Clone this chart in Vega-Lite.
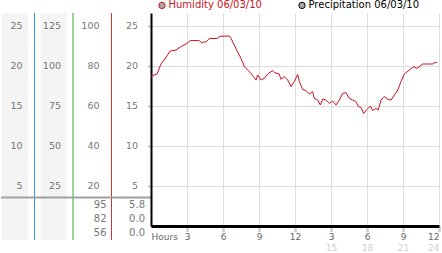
{
  "$schema": "https://vega.github.io/schema/vega-lite/v6.json",
  "padding": 0,
  "autosize": {"type": "pad"},
  "background": "white",
  "config": {"view": {"stroke": null}, "font": "DejaVu Sans"},
  "datasets": {
    "cols": [{"col": "A"}, {"col": "B"}, {"col": "C"}, {"col": "D"}],
    "labels": [
      {"col": "A", "level": 25, "label": "25"}, {"col": "A", "level": 20, "label": "20"}, {"col": "A", "level": 15, "label": "15"}, {"col": "A", "level": 10, "label": "10"}, {"col": "A", "level": 5, "label": "5"},
      {"col": "B", "level": 25, "label": "125"}, {"col": "B", "level": 20, "label": "100"}, {"col": "B", "level": 15, "label": "75"}, {"col": "B", "level": 10, "label": "50"}, {"col": "B", "level": 5, "label": "25"},
      {"col": "C", "level": 25, "label": "100"}, {"col": "C", "level": 20, "label": "80"}, {"col": "C", "level": 15, "label": "60"}, {"col": "C", "level": 10, "label": "40"}, {"col": "C", "level": 5, "label": "20"},
      {"col": "D", "level": 25, "label": "25"}, {"col": "D", "level": 20, "label": "20"}, {"col": "D", "level": 15, "label": "15"}, {"col": "D", "level": 10, "label": "10"}, {"col": "D", "level": 5, "label": "5"}
    ],
    "table": [
      {"stat": "max", "row": 1, "col": "C", "text": "95"}, {"stat": "max", "row": 1, "col": "D", "text": "5.8"},
      {"stat": "avg", "row": 2, "col": "C", "text": "82"}, {"stat": "avg", "row": 2, "col": "D", "text": "0.0"},
      {"stat": "min", "row": 3, "col": "C", "text": "56"}, {"stat": "min", "row": 3, "col": "D", "text": "0.0"}
    ],
    "humidity": [
      {"hour": 0.0, "humidity": 75}, {"hour": 0.5, "humidity": 76}, {"hour": 0.83, "humidity": 81}, {"hour": 1.1, "humidity": 83},
      {"hour": 1.6, "humidity": 87.5}, {"hour": 2.08, "humidity": 88}, {"hour": 2.5, "humidity": 89.7}, {"hour": 2.92, "humidity": 91},
      {"hour": 3.28, "humidity": 92.7}, {"hour": 4.03, "humidity": 92.7}, {"hour": 4.17, "humidity": 91.8}, {"hour": 4.58, "humidity": 92},
      {"hour": 4.86, "humidity": 93.7}, {"hour": 5.56, "humidity": 93.8}, {"hour": 5.69, "humidity": 94.8}, {"hour": 6.53, "humidity": 95},
      {"hour": 6.67, "humidity": 93.8}, {"hour": 6.94, "humidity": 90.5}, {"hour": 7.22, "humidity": 87}, {"hour": 7.5, "humidity": 83.8},
      {"hour": 7.78, "humidity": 79.7}, {"hour": 8.06, "humidity": 78}, {"hour": 8.33, "humidity": 76.3}, {"hour": 8.75, "humidity": 73},
      {"hour": 8.89, "humidity": 75.5}, {"hour": 9.17, "humidity": 73}, {"hour": 9.44, "humidity": 73.8}, {"hour": 9.72, "humidity": 76},
      {"hour": 10.14, "humidity": 77.7}, {"hour": 10.28, "humidity": 76.7}, {"hour": 10.69, "humidity": 76}, {"hour": 10.83, "humidity": 73.3},
      {"hour": 11.11, "humidity": 74.7}, {"hour": 11.39, "humidity": 73}, {"hour": 11.67, "humidity": 69.7}, {"hour": 11.94, "humidity": 72.2},
      {"hour": 12.22, "humidity": 75.8}, {"hour": 12.36, "humidity": 72.2}, {"hour": 12.64, "humidity": 68.3}, {"hour": 12.92, "humidity": 67.7},
      {"hour": 13.19, "humidity": 66}, {"hour": 13.47, "humidity": 67.2}, {"hour": 13.61, "humidity": 63.8}, {"hour": 13.89, "humidity": 63},
      {"hour": 14.11, "humidity": 60.5}, {"hour": 14.31, "humidity": 63.5}, {"hour": 14.58, "humidity": 63}, {"hour": 14.86, "humidity": 61.3},
      {"hour": 15.14, "humidity": 62.5}, {"hour": 15.42, "humidity": 60.5}, {"hour": 15.69, "humidity": 63}, {"hour": 15.97, "humidity": 66.3},
      {"hour": 16.25, "humidity": 66.7}, {"hour": 16.53, "humidity": 63.8}, {"hour": 16.81, "humidity": 63}, {"hour": 17.08, "humidity": 62.2},
      {"hour": 17.28, "humidity": 59.7}, {"hour": 17.5, "humidity": 59.3}, {"hour": 17.72, "humidity": 56.3}, {"hour": 18.0, "humidity": 58.3},
      {"hour": 18.28, "humidity": 60}, {"hour": 18.47, "humidity": 57.7}, {"hour": 18.75, "humidity": 58.8}, {"hour": 18.94, "humidity": 58},
      {"hour": 19.17, "humidity": 63}, {"hour": 19.44, "humidity": 64.7}, {"hour": 19.72, "humidity": 63.3}, {"hour": 20.0, "humidity": 63},
      {"hour": 20.28, "humidity": 65.5}, {"hour": 20.56, "humidity": 68}, {"hour": 20.83, "humidity": 72.2}, {"hour": 21.11, "humidity": 76},
      {"hour": 21.53, "humidity": 78}, {"hour": 21.89, "humidity": 79.7}, {"hour": 22.17, "humidity": 78.8}, {"hour": 22.64, "humidity": 81},
      {"hour": 23.47, "humidity": 81}, {"hour": 23.67, "humidity": 81.8}, {"hour": 23.83, "humidity": 81.7}
    ]
  },
  "bounds": "flush",
  "spacing": 0,
  "resolve": {"scale": {"x": "independent", "y": "independent", "color": "independent"}, "legend": {"color": "independent"}},
  "hconcat": [
    {
      "width": 150,
      "height": 227,
      "resolve": {"scale": {"y": "independent"}},
      "layer": [
        {
          "data": {"name": "cols"},
          "transform": [{"filter": "datum.col == 'A' || datum.col == 'B'"}],
          "mark": {"type": "bar", "color": "#f4f4f4", "width": {"band": 0.68}},
          "encoding": {
            "x": {"field": "col", "type": "nominal", "scale": {"type": "band", "domain": ["A", "B", "C", "D"], "range": [-5, 149], "paddingInner": 0, "paddingOuter": 0}, "axis": null}
          }
        },
        {
          "data": {"name": "cols"},
          "transform": [{"filter": "datum.col != 'D'"}],
          "mark": {"type": "rule", "strokeWidth": 1},
          "encoding": {
            "x": {"field": "col", "type": "nominal", "bandPosition": 1, "axis": null},
            "color": {"field": "col", "type": "nominal", "scale": {"domain": ["A", "B", "C"], "range": ["#2a9fd6", "#3aa63a", "#c8373c"]}, "legend": null}
          }
        },
        {
          "data": {"name": "labels"},
          "mark": {"type": "text", "fontSize": 9.5, "color": "#777777", "align": "right", "baseline": "middle", "dx": -12},
          "encoding": {
            "x": {"field": "col", "type": "nominal", "bandPosition": 1, "axis": null},
            "y": {"field": "level", "type": "quantitative", "scale": {"domain": [-1.75, 26.625], "nice": false, "zero": false}, "axis": null},
            "text": {"field": "label"}
          }
        },
        {
          "data": {"name": "table"},
          "layer": [
            {
              "transform": [{"filter": "datum.stat == 'max' && datum.col == 'C'"}],
              "mark": {"type": "rule", "color": "#a0a0a0", "strokeWidth": 2, "yOffset": -7},
              "encoding": {
                "y": {"field": "row", "type": "quantitative", "axis": null}
              }
            },
            {
              "mark": {"type": "text", "fontSize": 10, "color": "#777777", "align": "right", "baseline": "middle", "dx": -5},
              "encoding": {
                "x": {"field": "col", "type": "nominal", "bandPosition": 1, "axis": null},
                "y": {"field": "row", "type": "quantitative", "scale": {"domain": [-12.68, 3.535], "reverse": true, "nice": false, "zero": false}, "axis": null},
                "text": {"field": "text"}
              }
            }
          ]
        }
      ]
    },
    {
      "width": 288,
      "height": 213,
      "resolve": {"axis": {"x": "independent"}},
      "layer": [
        {
          "data": {"name": "humidity"},
          "mark": {"type": "line", "strokeWidth": 1, "interpolate": "linear"},
          "encoding": {
            "x": {
              "field": "hour", "type": "quantitative",
              "scale": {"domain": [0, 24], "nice": false, "zero": false},
              "axis": {
                "orient": "bottom",
                "values": [0, 3, 6, 9, 12, 15, 18, 21, 24], "title": null,
                "grid": true, "gridColor": "#dddddd",
                "domainColor": "#000000", "domainWidth": 3,
                "tickColor": {"condition": {"test": "datum.value == 0", "value": "transparent"}, "value": "#aaaaaa"},
                "tickSize": 5, "tickWidth": 3, "tickDash": [1, 1],
                "labelExpr": "datum.value == 0 ? ' Hours' : (datum.value > 12 ? datum.value - 12 : datum.value)",
                "labelFlush": true, "labelPadding": 1, "labelFontSize": 9, "labelColor": "#666666", "labelFont": "DejaVu Sans"
              }
            },
            "y": {
              "field": "humidity", "type": "quantitative",
              "scale": {"domain": [0, 106.5], "nice": false, "zero": false},
              "axis": {
                "values": [20, 40, 60, 80, 100], "title": null, "labels": false,
                "grid": true, "gridColor": "#dddddd",
                "domainColor": "#000000", "domainWidth": 2,
                "tickColor": "#aaaaaa", "tickSize": 4, "tickWidth": 3, "tickDash": [1, 1]
              }
            },
            "color": {
              "datum": "Humidity 06/03/10",
              "scale": {"domain": ["Humidity 06/03/10", "Precipitation 06/03/10"], "range": ["#cc1122", "#000000"]},
              "legend": {
                "orient": "none", "legendX": 6, "legendY": -13, "direction": "horizontal", "title": null,
                "symbolType": "circle", "symbolSize": 40, "labelFontSize": 10, "labelFont": "DejaVu Sans",
                "columnPadding": 34, "labelOffset": 1.5, "padding": 0,
                "encode": {
                  "symbols": {"update": {"fill": {"value": "#aaaaaa"}, "stroke": {"value": "#888888"}, "strokeWidth": {"value": 1}, "opacity": {"value": 1}}},
                  "labels": {"update": {"fill": {"signal": "datum.value === 'Humidity 06/03/10' ? '#cc1122' : '#000000'"}}}
                }
              }
            }
          }
        },
        {
          "data": {"name": "humidity"},
          "mark": {"type": "point", "opacity": 0},
          "encoding": {
            "x": {
              "field": "hour", "type": "quantitative",
              "scale": {"domain": [0, 24], "nice": false, "zero": false},
              "axis": {
                "orient": "bottom",
                "values": [0, 3, 6, 9, 12, 15, 18, 21, 24], "title": null,
                "grid": false, "domain": false, "ticks": false,
                "labelExpr": "datum.value > 12 ? datum.value : ''",
                "labelFlush": true, "labelPadding": 17, "labelFontSize": 9, "labelColor": "#d0d0d0", "labelFont": "DejaVu Sans"
              }
            }
          }
        }
      ]
    }
  ]
}
